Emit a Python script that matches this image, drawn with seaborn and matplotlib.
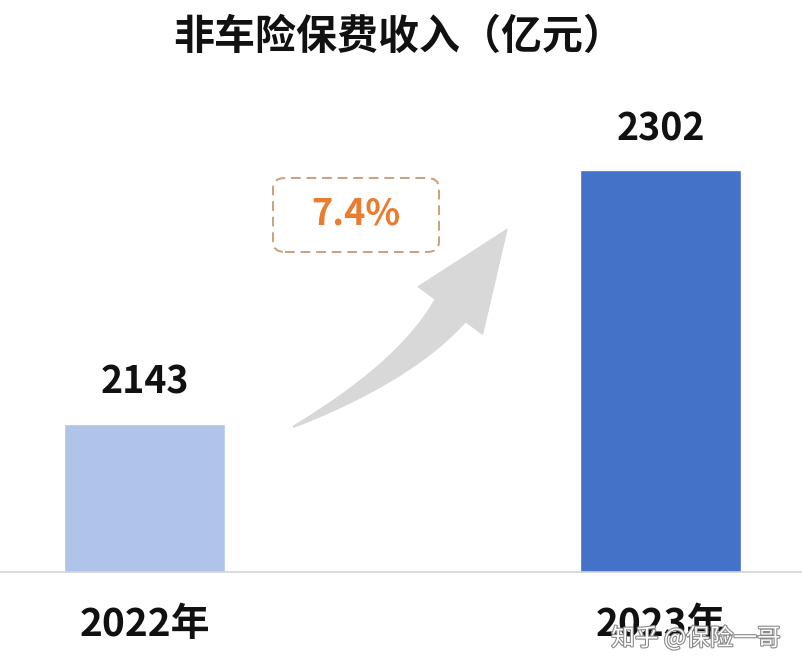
import numpy as np
import pandas as pd
import matplotlib
matplotlib.use("Agg")
import matplotlib.pyplot as plt
import matplotlib.patheffects as pe
from matplotlib.patches import Polygon, FancyBboxPatch
import seaborn as sns

# ---- data ----
title = "非车险保费收入（亿元）"
categories = ["2022年", "2023年"]
values = [2143, 2302]
bar_colors = ["#b0c4ea", "#4472c8"]
growth_label = "7.4%"
watermark = "知乎 @保险一哥"

sns.set_theme(style="white")
plt.rcParams["font.family"] = ["Noto Sans CJK SC", "DejaVu Sans"]

W, H = 802, 670
fig = plt.figure(figsize=(W / 100, H / 100), dpi=100)
fig.patch.set_facecolor("white")

# axes: full width, baseline at 572 px from top
base_px = 572
ax = fig.add_axes([0, (H - base_px) / H, 1, base_px / H])
ax.set_facecolor("none")

df = pd.DataFrame({"year": categories, "value": values})
sns.barplot(data=df, x="year", y="value", hue="year", palette=bar_colors,
            width=0.312, legend=False, ax=ax, saturation=1)

ax.set_xlim(-0.280, 1.274)
ax.set_ylim(2050, 2409)
ax.set_xlabel("")
ax.set_ylabel("")
ax.set_yticks([])
for s in ["left", "right", "top"]:
    ax.spines[s].set_visible(False)
ax.spines["bottom"].set_color("#d4d4d4")
ax.spines["bottom"].set_linewidth(1.2)
ax.tick_params(axis="x", length=0, pad=24, labelsize=28)
for lbl in ax.get_xticklabels():
    lbl.set_fontweight("heavy")
    lbl.set_color("#111111")

for cont in ax.containers:
    ax.bar_label(cont, fmt="%d", padding=16, fontsize=27, fontweight="heavy",
                 color="#111111")

# title
fig.text(0.497, 1 - 37 / H, title, ha="center", va="center",
         fontsize=29.5, fontweight="heavy", color="#111111")

# ---- curved arrow (decorative) ----
def px(x, y):
    return (x / W, 1 - y / H)

T = np.array([293.0, 427.0])
C = np.array([405.0, 372.0])
N = np.array([450.0, 311.0])
t = np.linspace(0, 1, 60)
pts = ((1 - t) ** 2)[:, None] * T + (2 * (1 - t) * t)[:, None] * C + (t ** 2)[:, None] * N
d = (2 * (1 - t))[:, None] * (C - T) + (2 * t)[:, None] * (N - C)
d /= np.linalg.norm(d, axis=1)[:, None]
nrm = np.stack([d[:, 1], -d[:, 0]], axis=1)
wd = 1.0 + 18.5 * t ** 0.9
upper = pts + nrm * wd[:, None]
lower = pts - nrm * wd[:, None]
nrm_end = nrm[-1]
head_l = N + nrm_end * 41
head_r = N - nrm_end * 41
tip = np.array([508.0, 228.0])
poly_px = np.vstack([upper, head_l, tip, head_r, lower[::-1]])
poly = [px(x, y) for x, y in poly_px]
fig.patches.append(Polygon(poly, closed=True, transform=fig.transFigure,
                           facecolor="#d8d8d8", edgecolor="none", zorder=1))

# dashed box with growth label
x0, y0 = px(273, 252)
x1, y1 = px(439, 178)
box = FancyBboxPatch((x0, y0), x1 - x0, y1 - y0,
                     boxstyle="round,pad=0,rounding_size=0.015",
                     transform=fig.transFigure, facecolor="none",
                     edgecolor="#c9a17c", linewidth=1.4, linestyle=(0, (5, 3)))
fig.patches.append(box)
fig.text(356 / W, 1 - 214 / H, growth_label, ha="center", va="center",
         fontsize=26, fontweight="bold", color="#e97c30")

# watermark (overlaps the 2023 label, as in the reference)
fig.text(696 / W, 1 - 638 / H, watermark, ha="center", va="center",
         fontsize=17, color="white",
         path_effects=[pe.withStroke(linewidth=1.6, foreground="#8a8a8a")])

fig.savefig("out.png", dpi=100, facecolor="white")
